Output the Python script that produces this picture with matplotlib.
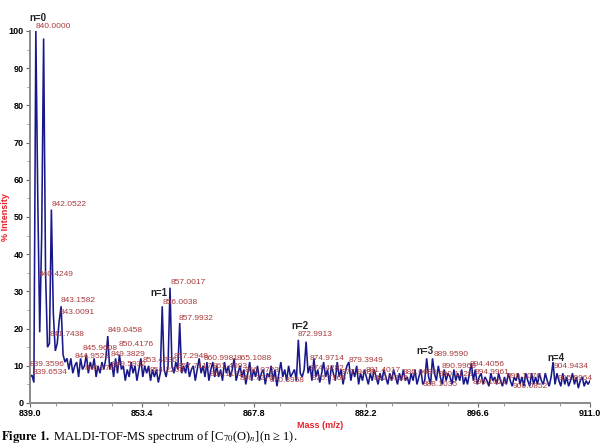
import numpy as np
import matplotlib
matplotlib.use("Agg")
import matplotlib.pyplot as plt
from matplotlib.ticker import MultipleLocator, FixedLocator

plt.rcParams['font.family'] = ['Liberation Sans', 'DejaVu Sans']
plt.rcParams['mathtext.fontset'] = 'stix'

# ---- data (intensity sampled every 0.25 m/z from 839.0 to 911.0) ----
mass_start = 839.0
mass_end = 911.0
intensity = [
    7, 7.5, 5.5, 100,      # 839
    55, 19, 45, 98,        # 840
    35, 15, 16, 52,        # 841
    24, 14, 16, 22,        # 842
    26, 13, 11, 12,        # 843
    9, 12, 8, 10,          # 844
    11, 7, 12, 9,          # 845
    10, 13, 8, 11,         # 846
    9, 12, 7, 10,          # 847
    8, 11, 9, 12,          # 848
    18, 9, 11, 7,          # 849
    12, 8, 13, 9,          # 850
    10, 6, 9, 7,           # 851
    11, 8, 10, 6,          # 852
    9, 12, 7, 10,          # 853
    8, 10, 6, 9,           # 854
    7, 9, 5.5, 8,          # 855
    26, 9, 7, 10,          # 856
    31, 10, 8, 11,         # 857
    9, 21.5, 8, 10,        # 858
    8, 11, 7, 9,           # 859
    10, 6, 9, 12,          # 860
    8, 10, 7, 11,          # 861
    6, 9, 11, 7,           # 862
    10, 7, 9, 6,           # 863
    11, 8, 10, 7,          # 864
    9, 12, 6, 8,           # 865
    10, 7, 9, 5,           # 866
    8, 11, 6, 9,           # 867
    7, 10, 6, 8,           # 868
    9, 5, 8, 7,            # 869
    10, 6, 9, 4.5,         # 870
    8, 11, 7, 9,           # 871
    6, 10, 7, 8,           # 872
    9, 6, 17, 8,           # 873
    7, 9, 16.5, 8,         # 874
    10, 6, 12, 7,          # 875
    9, 5.5, 8, 11,         # 876
    7, 9, 5, 10,           # 877
    8, 6, 11, 7,           # 878
    9, 5, 8, 10,           # 879
    11, 6, 9, 7,           # 880
    10, 5, 8, 6,           # 881
    9, 7, 5, 8,            # 882
    6, 9, 7, 5,            # 883
    8, 6, 9, 7,            # 884
    5, 8, 6, 9,            # 885
    7, 5, 8, 6,            # 886
    9, 6, 7, 5,            # 887
    8, 6, 9, 5,            # 888
    7, 9, 5, 6,            # 889
    12, 7, 5, 12,          # 890
    8, 6, 10, 7,           # 891
    5, 9, 6, 8,            # 892
    7, 5, 9, 6,            # 893
    8, 6, 9, 5,            # 894
    7, 5, 8, 10.7,         # 895
    6, 9, 5, 7,            # 896
    8, 5, 7, 6,            # 897
    4.5, 8, 6, 7,          # 898
    5, 8, 6, 4.5,          # 899
    7, 5, 8, 6,            # 900
    4.5, 7, 6, 8,          # 901
    5, 7, 4.5, 8,          # 902
    6, 4.5, 8, 5,          # 903
    7, 5, 8, 6,            # 904
    5, 8, 6, 4.5,          # 905
    7, 11, 5, 8,           # 906
    6, 4.5, 8, 5,          # 907
    7, 4.5, 6, 8,          # 908
    5, 7, 4, 6,            # 909
    7, 4.5, 6, 5,          # 910
    6,                     # 911
]

x_ticks = [839.0, 853.4, 867.8, 882.2, 896.6, 911.0]
x_tick_labels = ["839.0", "853.4", "867.8", "882.2", "896.6", "911.0"]
y_ticks = [0, 10, 20, 30, 40, 50, 60, 70, 80, 90, 100]

peak_labels = ["840.0000", "842.0522", "840.4249", "843.1582", "843.0091", "841.7438",
               "849.0458", "845.9608", "850.4176", "844.9523", "849.3829", "839.3596",
               "839.6534", "846.5767", "849.5932", "853.4236", "854.2208", "857.0017",
               "856.0038", "857.9932", "857.2948", "857.7117", "860.9981", "865.1088",
               "861.4093", "862.1172", "866.0723", "866.7276", "870.3968", "872.9913",
               "874.9714", "874.4282", "875.7166", "877.9488", "879.3949", "881.4017",
               "882.5328", "886.0688", "888.1035", "889.9590", "890.9963", "890.1128",
               "894.4056", "894.9961", "896.1622", "899.1076", "900.0852", "904.9434",
               "905.9964"]
# label anchors (left edge, vertical centre) in pixel units of the original figure
label_px = [36, 52, 39, 61, 60, 50, 108, 83, 119, 75, 111, 30, 33, 85, 112, 143, 150,
            171, 163, 179, 174, 178, 204, 237, 213, 210, 245, 240, 270, 298, 310, 310,
            312, 342, 349, 366, 374, 403, 423, 434, 442, 439, 470, 475, 473, 507, 513,
            554, 558]
label_py = [27, 204, 274, 300, 313, 335, 331, 348, 345, 356, 354, 364, 373, 369, 365,
            360, 370, 283, 303, 319, 356, 366, 358, 358, 367, 375, 370, 378, 381, 335,
            358, 368, 379, 373, 360, 371, 379, 373, 384, 354, 366, 374, 365, 373, 383,
            377, 386, 367, 379]

series_labels = ["n=0", "n=1", "n=2", "n=3", "n=4"]
series_px = [38, 159, 300, 425, 556]
series_py = [18, 293, 326, 351, 358]

# ---- figure ----
W, H = 614, 445
fig = plt.figure(figsize=(W / 100, H / 100), dpi=100)
ax_l, ax_r, ax_b, ax_t = 30, 590, 403, 31
ax = fig.add_axes([ax_l / W, 1 - ax_b / H, (ax_r - ax_l) / W, (ax_b - ax_t) / H])

mass = np.linspace(mass_start, mass_end, len(intensity))
ax.plot(mass, intensity, color='#18188a', lw=1.15, solid_joinstyle='miter')

ax.set_xlim(mass_start, mass_end)
ax.set_ylim(0, 100)

def px2data(px, py):
    m = mass_start + (px - ax_l) * (mass_end - mass_start) / (ax_r - ax_l)
    v = (ax_b - py) * 100.0 / (ax_b - ax_t)
    return m, v

label_color = '#a83a3c'
for txt, px, py in zip(peak_labels, label_px, label_py):
    m, v = px2data(px, py)
    ax.text(m, v, txt, color=label_color, fontsize=6, ha='left', va='center',
            clip_on=False)

for txt, px, py in zip(series_labels, series_px, series_py):
    m, v = px2data(px, py)
    ax.text(m, v, txt, color='#222222', fontsize=7, fontweight='bold',
            ha='center', va='center', clip_on=False)

for s in ['top', 'right']:
    ax.spines[s].set_visible(False)
for s in ['left', 'bottom']:
    ax.spines[s].set_color('#8a8a8a')
    ax.spines[s].set_linewidth(1.4)

ax.xaxis.set_major_locator(FixedLocator(x_ticks))
ax.set_xticklabels(x_tick_labels)
ax.xaxis.set_minor_locator(MultipleLocator(7.2))
ax.yaxis.set_major_locator(FixedLocator(y_ticks))
ax.yaxis.set_minor_locator(MultipleLocator(5))
ax.tick_params(axis='both', which='major', length=3, width=0.8, color='#666666',
               labelsize=6.5, pad=1.5)
ax.tick_params(axis='both', which='minor', length=2, width=0.6, color='#888888')
for lab in ax.get_xticklabels() + ax.get_yticklabels():
    lab.set_fontweight('bold')

fig.text(320 / W, 1 - 425 / H, "Mass (m/z)", color='#e8202a', fontsize=6.5,
         fontweight='bold', ha='center', va='center')
fig.text(6 / W, 1 - 217 / H, "% Intensity", color='#e8202a', fontsize=6.5,
         fontweight='bold', ha='center', va='center', rotation=90)

fig.text(1 / W, 1 - 437 / H,
         r"$\mathbf{Figure\ 1.}$ MALDI-TOF-MS spectrum of [C$_{70}$(O)$_{n}$](n ≥ 1).",
         fontsize=9, family=['Liberation Serif', 'DejaVu Serif'],
         ha='left', va='center')

fig.savefig("out.png", dpi=100, facecolor='white')
